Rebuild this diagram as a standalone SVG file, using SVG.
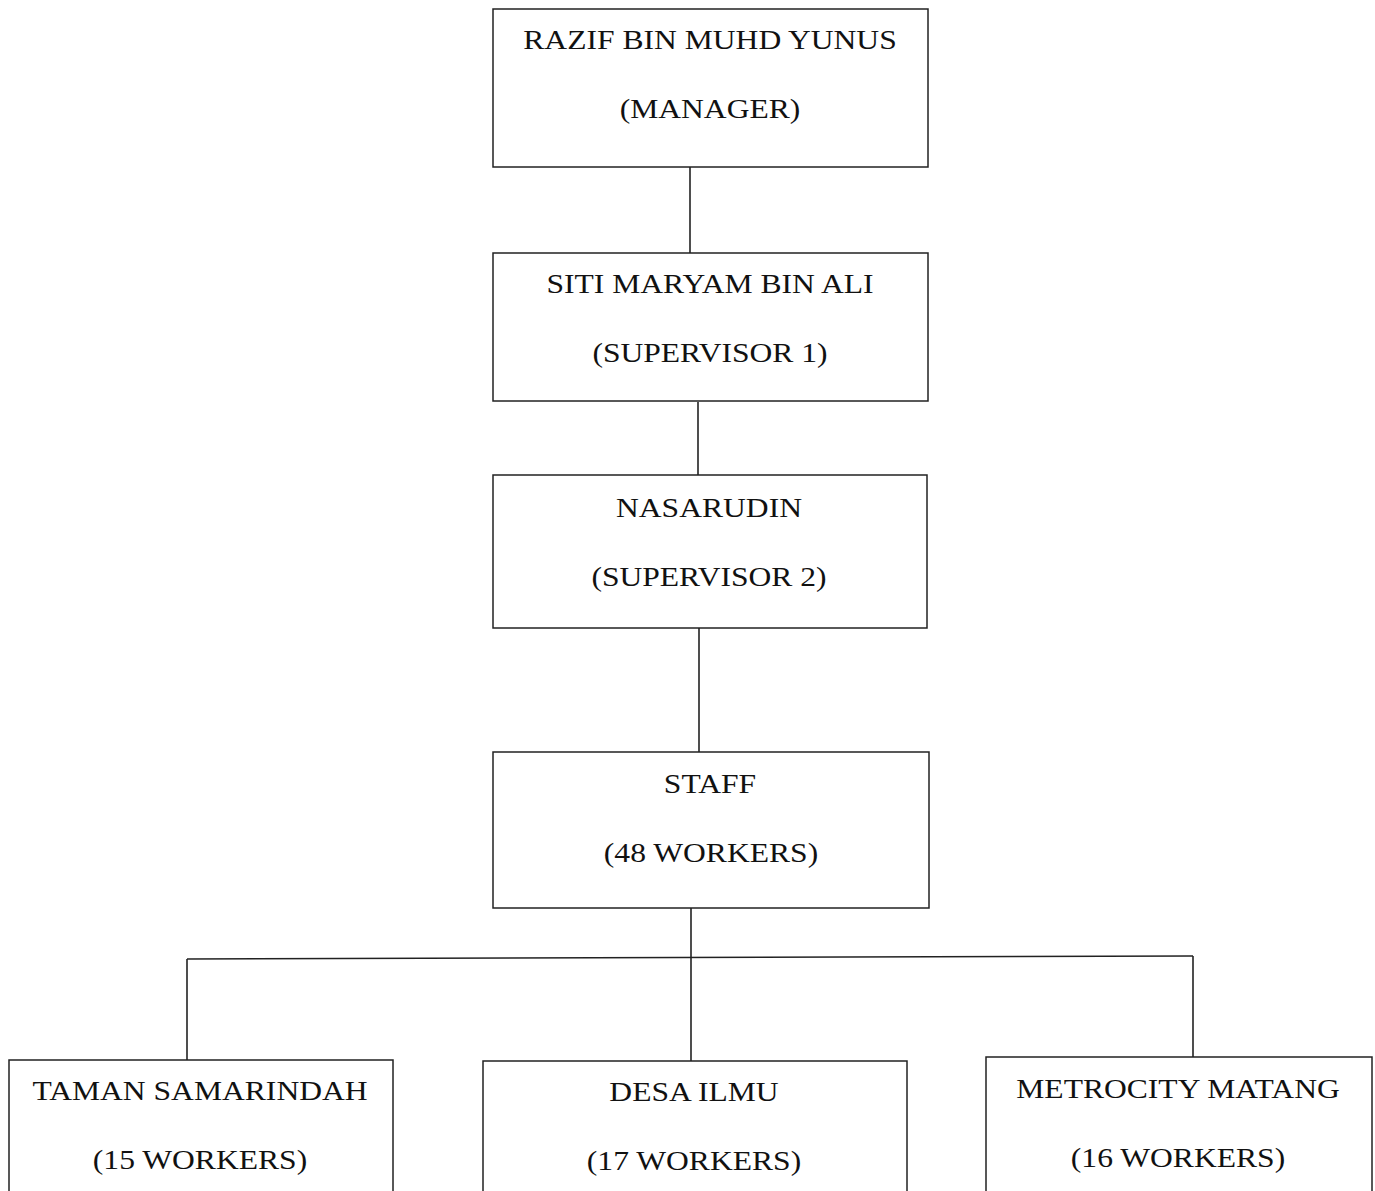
<svg xmlns="http://www.w3.org/2000/svg" width="1375" height="1191" viewBox="0 0 1375 1191">
<style>
.box{fill:#fff;stroke:#222;stroke-width:1.5}
.t{font-family:"Liberation Serif","Times New Roman",serif;font-size:27px;fill:#111;text-anchor:middle}
.c{stroke:#222;stroke-width:1.6;fill:none}
</style>
<rect width="1375" height="1191" fill="#fff"/>
<g id="connectors">
<line class="c" x1="690" y1="167" x2="690" y2="253"/>
<line class="c" x1="698" y1="402" x2="698" y2="475"/>
<line class="c" x1="699" y1="628" x2="699" y2="752"/>
<line class="c" x1="691" y1="908" x2="691" y2="1061"/>
<line class="c" x1="187" y1="959" x2="1193" y2="956"/>
<line class="c" x1="187" y1="959" x2="187" y2="1060"/>
<line class="c" x1="1193" y1="956" x2="1193" y2="1058"/>
</g>
<g id="manager">
<rect class="box" x="493" y="9" width="435" height="158"/>
<text class="t" transform="translate(710 49) scale(1.17 1)">RAZIF BIN MUHD YUNUS</text>
<text class="t" transform="translate(710 118) scale(1.17 1)">(MANAGER)</text>
</g>
<g id="supervisor1">
<rect class="box" x="493" y="253" width="435" height="148"/>
<text class="t" transform="translate(710 293) scale(1.17 1)">SITI MARYAM BIN ALI</text>
<text class="t" transform="translate(710 362) scale(1.17 1)">(SUPERVISOR 1)</text>
</g>
<g id="supervisor2">
<rect class="box" x="493" y="475" width="434" height="153"/>
<text class="t" transform="translate(709 517) scale(1.17 1)">NASARUDIN</text>
<text class="t" transform="translate(709 586) scale(1.17 1)">(SUPERVISOR 2)</text>
</g>
<g id="staff">
<rect class="box" x="493" y="752" width="436" height="156"/>
<text class="t" transform="translate(710 793) scale(1.17 1)">STAFF</text>
<text class="t" transform="translate(711 862) scale(1.17 1)">(48 WORKERS)</text>
</g>
<g id="taman">
<rect class="box" x="9" y="1060" width="384" height="140"/>
<text class="t" transform="translate(200 1100) scale(1.17 1)">TAMAN SAMARINDAH</text>
<text class="t" transform="translate(200 1169) scale(1.17 1)">(15 WORKERS)</text>
</g>
<g id="desa">
<rect class="box" x="483" y="1061" width="424" height="140"/>
<text class="t" transform="translate(694 1101) scale(1.17 1)">DESA ILMU</text>
<text class="t" transform="translate(694 1170) scale(1.17 1)">(17 WORKERS)</text>
</g>
<g id="metrocity">
<rect class="box" x="986" y="1057" width="386" height="144"/>
<text class="t" transform="translate(1178 1098) scale(1.17 1)">METROCITY MATANG</text>
<text class="t" transform="translate(1178 1167) scale(1.17 1)">(16 WORKERS)</text>
</g>
</svg>
